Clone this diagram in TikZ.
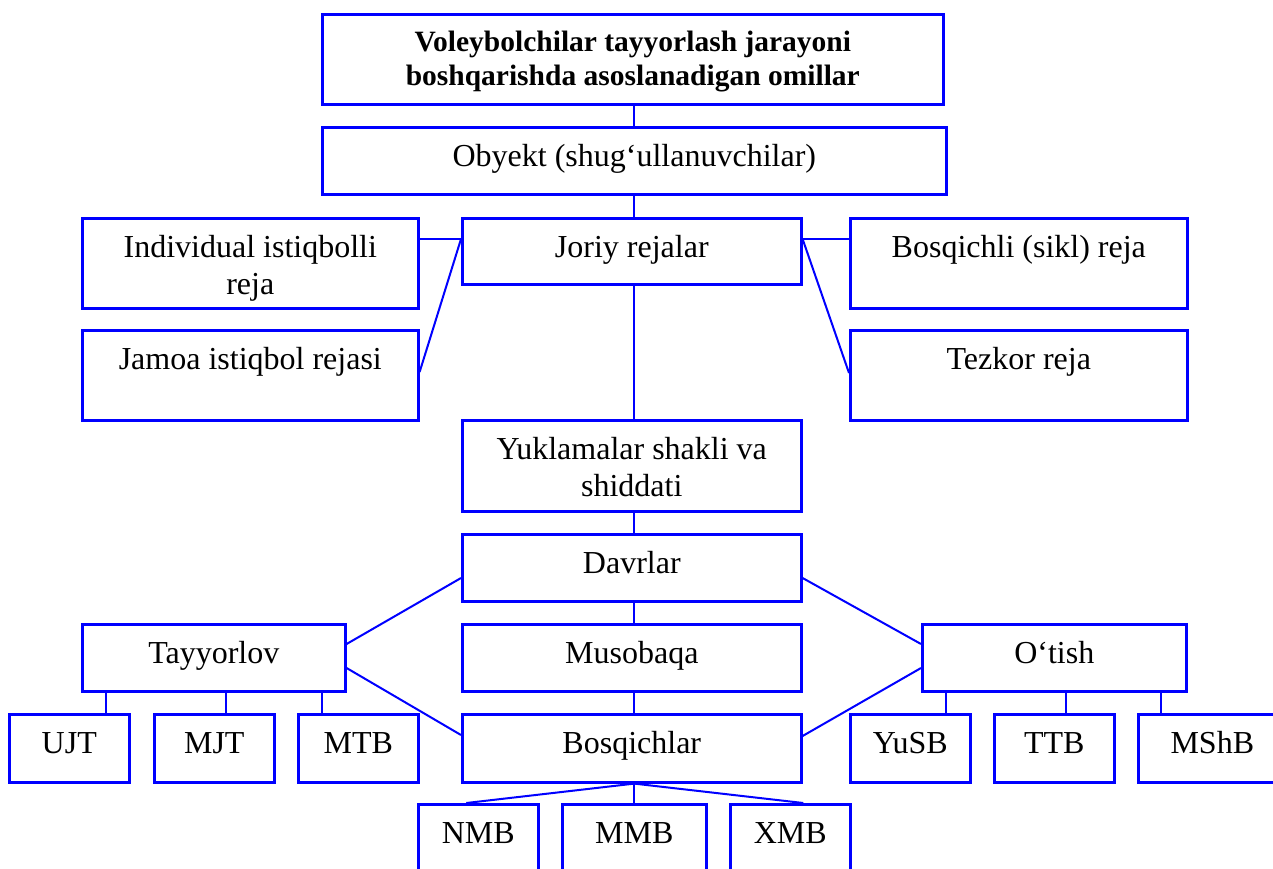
\documentclass[tikz,border=0pt]{standalone}
\usepackage{fontspec}
\setmainfont{Liberation Serif}
\definecolor{lineblue}{RGB}{0,0,255}
\tikzset{
  box/.style={draw=lineblue, line width=2.6pt, inner sep=0pt, rectangle},
  txt/.style={inner sep=0pt, align=center, font=\fontsize{32}{37}\selectfont, text=black, text height=21pt, yshift=-19pt},
  twolines/.style={text height=58pt},
  ttl/.style={inner sep=0pt, align=center, font=\bfseries\fontsize{29.5}{34}\selectfont, text=black, text height=53.5pt, yshift=-18.5pt},
  conn/.style={draw=lineblue, line width=2pt},
}
\newcommand\mybox[7][txt]{%
  \node[box, minimum width={(#5-#3)*1pt}, minimum height={(#6-#4)*1pt}, anchor=north west] (#2) at (#3,#4) {};
  \node[#1, anchor=north] (#2-t) at (#2.north) {#7};
}
\begin{document}
\begin{tikzpicture}[x=1pt,y=-1pt]
\useasboundingbox (0,0) rectangle (1273,868);
\clip (0,0) rectangle (1273,868);
\fill[white] (0,0) rectangle (1273,868);
\mybox[ttl]{top}{321}{13}{942}{103}{Voleybolchilar tayyorlash jarayoni\\boshqarishda asoslanadigan omillar}
\mybox{obj}{321}{126}{945}{193}{Obyekt (shug‘ullanuvchilar)}
\mybox[txt,twolines]{ind}{81}{217}{417}{307}{Individual istiqbolli\\reja}
\mybox{joriy}{461}{217}{800}{283}{Joriy rejalar}
\mybox{bos}{849}{217}{1186}{307}{Bosqichli (sikl) reja}
\mybox{jamoa}{81}{329}{417}{419}{Jamoa istiqbol rejasi}
\mybox{tez}{849}{329}{1186}{419}{Tezkor reja}
\mybox[txt,twolines]{yuk}{461}{419}{800}{510}{Yuklamalar shakli va\\shiddati}
\mybox{davr}{461}{533}{800}{600}{Davrlar}
\mybox{mus}{461}{623}{800}{690}{Musobaqa}
\mybox{bosq}{461}{713}{800}{781}{Bosqichlar}
\mybox{tay}{81}{623}{344}{690}{Tayyorlov}
\mybox{ot}{921}{623}{1185}{690}{O‘tish}
\mybox{ujt}{8}{713}{128}{781}{UJT}
\mybox{mjt}{153}{713}{273}{781}{MJT}
\mybox{mtb}{297}{713}{417}{781}{MTB}
\mybox{yusb}{849}{713}{969}{781}{YuSB}
\mybox{ttb}{993}{713}{1113}{781}{TTB}
\mybox{mshb}{1137}{713}{1285}{781}{MShB}
\mybox{nmb}{417}{803}{537}{885}{NMB}
\mybox{mmb}{561}{803}{705}{885}{MMB}
\mybox{xmb}{729}{803}{849}{885}{XMB}
% spine (vertical at the x of the Obyekt box centre)
\draw[conn] (obj.south |- top.south) -- (obj.north);
\draw[conn] (obj.south) -- (obj.south |- joriy.north);
\draw[conn] (obj.south |- joriy.south) -- (obj.south |- yuk.north);
\draw[conn] (obj.south |- yuk.south) -- (obj.south |- davr.north);
\draw[conn] (obj.south |- davr.south) -- (obj.south |- mus.north);
\draw[conn] (obj.south |- mus.south) -- (obj.south |- bosq.north);
% plans
\draw[conn] ([yshift=-22pt]ind.north east) -- ([yshift=-22pt]joriy.north west);
\draw[conn] ([yshift=-22pt]joriy.north west) -- ([yshift=-43pt]jamoa.north east);
\draw[conn] ([yshift=-22pt]joriy.north east) -- ([yshift=-22pt]bos.north west);
\draw[conn] ([yshift=-22pt]joriy.north east) -- ([yshift=-44pt]tez.north west);
% periods
\draw[conn] ([yshift=-45pt]davr.north west) -- ([yshift=-21pt]tay.north east);
\draw[conn] ([yshift=-45pt]davr.north east) -- ([yshift=-21pt]ot.north west);
\draw[conn] ([yshift=-45pt]tay.north east) -- ([yshift=-22pt]bosq.north west);
\draw[conn] ([yshift=-45pt]ot.north west) -- ([yshift=-23pt]bosq.north east);
% sub-boxes
\draw[conn] ([xshift=37pt]ujt.north) -- ++(0,-23);
\draw[conn] ([xshift=12pt]mjt.north) -- ++(0,-23);
\draw[conn] ([xshift=-36pt]mtb.north) -- ++(0,-23);
\draw[conn] ([xshift=36pt]yusb.north) -- ++(0,-23);
\draw[conn] ([xshift=12pt]ttb.north) -- ++(0,-23);
\draw[conn] ([xshift=24pt]mshb.north west) -- ++(0,-23);
\draw[conn] (obj.south |- bosq.south) -- ([xshift=-12pt]nmb.north);
\draw[conn] (obj.south |- bosq.south) -- (obj.south |- mmb.north);
\draw[conn] (obj.south |- bosq.south) -- ([xshift=13pt]xmb.north);
\end{tikzpicture}
\end{document}
